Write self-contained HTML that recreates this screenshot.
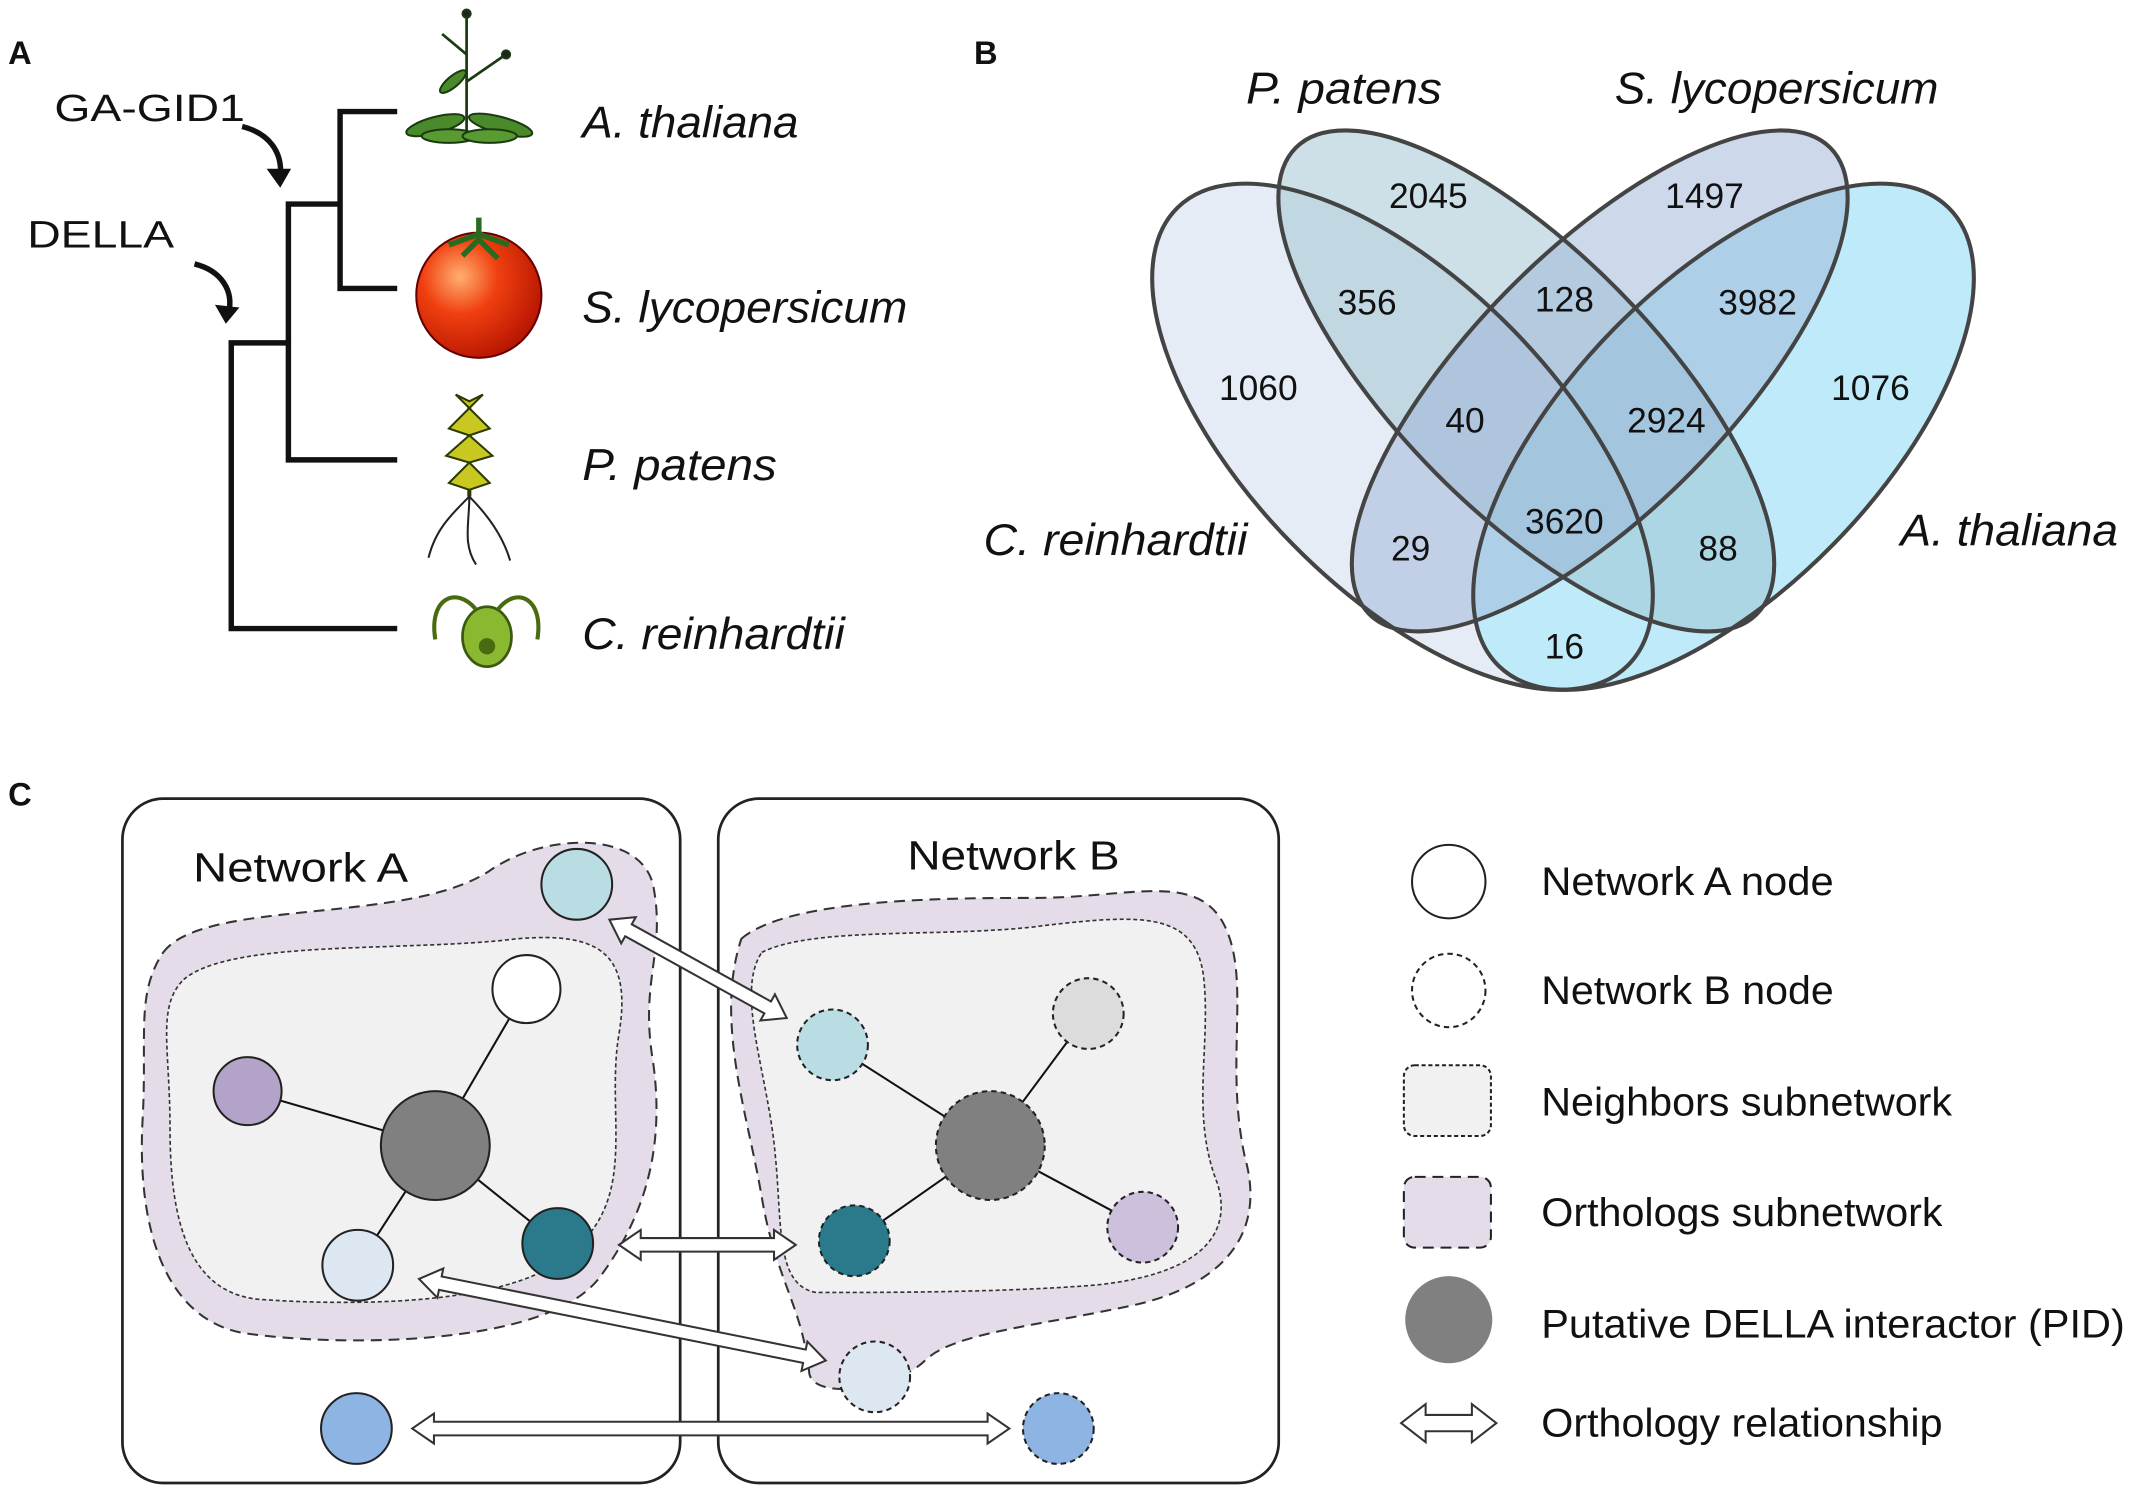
<!DOCTYPE html>
<html><head><meta charset="utf-8"><style>
html,body{margin:0;padding:0;background:#fff;}
svg{display:block;}
text{font-family:"Liberation Sans",Arial,sans-serif;fill:#111;}
.it{font-style:italic;font-size:33px;}
.n{font-size:26px;text-anchor:middle;}
.lg{font-size:29px;}
</style></head><body>
<svg width="2133" height="1502" viewBox="0 0 1568 1104" preserveAspectRatio="none" xmlns="http://www.w3.org/2000/svg">
<text x="6" y="47" font-size="24" font-weight="bold">A</text>
<text x="716" y="47" font-size="24" font-weight="bold">B</text>
<text x="6" y="592" font-size="24" font-weight="bold">C</text>

<g stroke="#111" stroke-width="4" fill="none">
<path d="M292,82 H250 V212 H292"/>
<path d="M250,150 H212 V338 H292"/>
<path d="M212,252 H170 V462 H292"/>
<path d="M178,93 C198,98 208,112 206,130"/>
<path d="M143,194 C163,199 172,214 168,230"/>
</g>
<defs>
<radialGradient id="tom" cx="0.35" cy="0.35" r="0.75">
<stop offset="0" stop-color="#ffb070"/><stop offset="0.4" stop-color="#f04010"/><stop offset="1" stop-color="#b01000"/></radialGradient>
</defs>
<polygon points="196,124 214,124 206,138" fill="#111"/>
<polygon points="158,224 176,226 166,238" fill="#111"/>
<text x="40" y="89" font-size="28" textLength="140" lengthAdjust="spacingAndGlyphs">GA-GID1</text>
<text x="20" y="182" font-size="28" textLength="108" lengthAdjust="spacingAndGlyphs">DELLA</text>
<text class="it" x="428" y="101" textLength="159" lengthAdjust="spacingAndGlyphs">A. thaliana</text>
<text class="it" x="428" y="237" textLength="239" lengthAdjust="spacingAndGlyphs">S. lycopersicum</text>
<text class="it" x="428" y="353" textLength="143" lengthAdjust="spacingAndGlyphs">P. patens</text>
<text class="it" x="428" y="477" textLength="193" lengthAdjust="spacingAndGlyphs">C. reinhardtii</text>

<g stroke="#1a3a10" stroke-width="1.5">
<path d="M343,100 V12 M343,60 L372,40 M343,40 L325,25" fill="none" stroke-width="2"/>
<ellipse cx="320" cy="92" rx="22" ry="6" fill="#4a8a2a" transform="rotate(-15 320 92)"/>
<ellipse cx="368" cy="92" rx="24" ry="6" fill="#4a8a2a" transform="rotate(15 368 92)"/>
<ellipse cx="330" cy="100" rx="20" ry="5" fill="#5a9a32"/>
<ellipse cx="360" cy="100" rx="20" ry="5" fill="#5a9a32"/>
<ellipse cx="333" cy="60" rx="12" ry="4" fill="#4a8a2a" transform="rotate(-40 333 60)"/>
<circle cx="343" cy="10" r="3" fill="#222"/><circle cx="372" cy="40" r="3" fill="#222"/>
</g>
<circle cx="352" cy="217" r="46" fill="url(#tom)" stroke="#600" stroke-width="1.5"/>
<path d="M330,180 L352,172 L374,180 M340,188 L352,176 L366,190 M352,172 V160" stroke="#2a6a20" stroke-width="4" fill="none"/>
<g stroke="#2a3a00" stroke-width="1.5" fill="#c8c820">
<path d="M345,365 V300" fill="none" stroke-width="3"/>
<path d="M345,300 L330,315 L345,320 L360,315 Z M345,320 L328,335 L345,340 L362,335 Z M345,340 L330,355 L345,360 L360,355 Z M345,300 L335,290 L345,295 L355,290 Z"/>
<path d="M345,365 C330,380 320,390 315,410 M345,365 C345,385 340,400 350,415 M345,365 C360,380 370,395 375,412" fill="none" stroke="#222"/>
</g>
<ellipse cx="358" cy="468" rx="18" ry="22" fill="#8ab830" stroke="#3a5a10" stroke-width="2"/>
<circle cx="358" cy="475" r="6" fill="#4a6a10"/>
<path d="M350,448 C335,430 315,440 320,470 M366,448 C380,430 400,440 395,470" stroke="#4a6a10" stroke-width="3" fill="none"/>

<!-- Venn -->
<g stroke="none">
<ellipse cx="1031" cy="321" rx="236" ry="113" transform="rotate(45.5 1031 321)" fill="#e6ecf5"/>
<ellipse cx="1267" cy="321" rx="236" ry="113" transform="rotate(-45.5 1267 321)" fill="#bfeaf9"/>
<ellipse cx="1122" cy="280" rx="241" ry="95" transform="rotate(45.4 1122 280)" fill="#9cc2cf" fill-opacity="0.5"/>
<ellipse cx="1176" cy="280" rx="241" ry="95" transform="rotate(-45.4 1176 280)" fill="#9bb4d8" fill-opacity="0.5"/>
</g>
<g stroke="#444" stroke-width="3" fill="none">
<ellipse cx="1031" cy="321" rx="236" ry="113" transform="rotate(45.5 1031 321)"/>
<ellipse cx="1267" cy="321" rx="236" ry="113" transform="rotate(-45.5 1267 321)"/>
<ellipse cx="1122" cy="280" rx="241" ry="95" transform="rotate(45.4 1122 280)"/>
<ellipse cx="1176" cy="280" rx="241" ry="95" transform="rotate(-45.4 1176 280)"/>
</g>
<text class="n" x="1050" y="153">2045</text><text class="n" x="1253" y="153">1497</text>
<text class="n" x="1005" y="231">356</text><text class="n" x="1150" y="229">128</text><text class="n" x="1292" y="231">3982</text>
<text class="n" x="925" y="294">1060</text><text class="n" x="1077" y="318">40</text><text class="n" x="1225" y="318">2924</text><text class="n" x="1375" y="294">1076</text>
<text class="n" x="1037" y="412">29</text><text class="n" x="1150" y="392">3620</text><text class="n" x="1263" y="412">88</text>
<text class="n" x="1150" y="484">16</text>
<text class="it" x="916" y="76" textLength="144" lengthAdjust="spacingAndGlyphs">P. patens</text>
<text class="it" x="1187" y="76" textLength="238" lengthAdjust="spacingAndGlyphs">S. lycopersicum</text>
<text class="it" x="723" y="408" textLength="194" lengthAdjust="spacingAndGlyphs">C. reinhardtii</text>
<text class="it" x="1397" y="401" textLength="160" lengthAdjust="spacingAndGlyphs">A. thaliana</text>

<rect x="90" y="587" width="410" height="503" rx="30" fill="#fff" stroke="#222" stroke-width="2"/>
<rect x="528" y="587" width="412" height="503" rx="30" fill="#fff" stroke="#222" stroke-width="2"/>
<text x="142" y="648" font-size="30" textLength="158" lengthAdjust="spacingAndGlyphs">Network A</text>
<text x="667" y="639" font-size="30" textLength="156" lengthAdjust="spacingAndGlyphs">Network B</text>

<path d="M120,700 C150,660 300,680 360,640 C400,612 470,610 480,650 C490,700 470,720 480,780 C490,850 470,900 440,940 C400,990 250,990 180,980 C120,970 100,900 105,820 C108,760 100,730 120,700 Z" fill="#e4dde9" stroke="#333" stroke-width="1.5" stroke-dasharray="8,5"/>
<path d="M135,720 C170,690 300,700 380,690 C440,685 465,700 455,760 C445,820 470,880 420,920 C380,960 260,960 190,955 C140,950 125,900 125,830 C125,770 115,740 135,720 Z" fill="#f1f1f1" stroke="#333" stroke-width="1.2" stroke-dasharray="3,2"/>
<path d="M545,690 C580,660 700,660 760,660 C830,660 880,640 900,680 C920,720 900,780 915,850 C935,920 880,950 830,960 C760,975 700,980 680,1000 C660,1020 600,1030 595,1010 C590,960 570,940 560,880 C550,820 525,750 545,690 Z" fill="#e4dde9" stroke="#333" stroke-width="1.5" stroke-dasharray="8,5"/>
<path d="M560,700 C600,680 700,690 770,680 C840,672 880,670 885,720 C890,770 875,820 895,870 C910,920 860,940 800,945 C730,950 650,950 600,950 C570,945 575,900 570,850 C565,790 540,730 560,700 Z" fill="#f1f1f1" stroke="#333" stroke-width="1.2" stroke-dasharray="3,2"/>

<g stroke="#111" stroke-width="1.5">
<line x1="320" y1="842" x2="387" y2="727"/><line x1="320" y1="842" x2="182" y2="802"/>
<line x1="320" y1="842" x2="410" y2="914"/><line x1="320" y1="842" x2="263" y2="930"/>
<line x1="728" y1="842" x2="612" y2="768"/><line x1="728" y1="842" x2="800" y2="745"/>
<line x1="728" y1="842" x2="628" y2="912"/><line x1="728" y1="842" x2="840" y2="902"/>
</g>
<g stroke="#222" stroke-width="1.5">
<circle cx="424" cy="650" r="26" fill="#b9dde3"/>
<circle cx="387" cy="727" r="25" fill="#fff"/>
<circle cx="182" cy="802" r="25" fill="#b4a3c8"/>
<circle cx="320" cy="842" r="40" fill="#808080"/>
<circle cx="410" cy="914" r="26" fill="#2a7a8c"/>
<circle cx="263" cy="930" r="26" fill="#dde7f2"/>
<circle cx="262" cy="1050" r="26" fill="#8eb4e3"/>
</g>
<g stroke="#222" stroke-width="1.5" stroke-dasharray="4,3">
<circle cx="612" cy="768" r="26" fill="#b9dde3"/>
<circle cx="800" cy="745" r="26" fill="#dcdcdc"/>
<circle cx="728" cy="842" r="40" fill="#808080"/>
<circle cx="628" cy="912" r="26" fill="#2a7a8c"/>
<circle cx="840" cy="902" r="26" fill="#cdc0dd"/>
<circle cx="643" cy="1012" r="26" fill="#dde7f2"/>
<circle cx="778" cy="1050" r="26" fill="#8eb4e3"/>
</g>

<g fill="#fff" stroke="#333" stroke-width="1.5">
<polygon transform="translate(448,676) rotate(29)" points="0,0 16,-11 16,-5 133,-5 133,-11 149,0 133,11 133,5 16,5 16,11"/>
<polygon transform="translate(455,915)" points="0,0 16,-11 16,-5 114,-5 114,-11 130,0 114,11 114,5 16,5 16,11"/>
<polygon transform="translate(308,940) rotate(11.35)" points="0,0 16,-11 16,-5 289,-5 289,-11 305,0 289,11 289,5 16,5 16,11"/>
<polygon transform="translate(303,1050)" points="0,0 16,-11 16,-5 423,-5 423,-11 439,0 423,11 423,5 16,5 16,11"/>
<polygon transform="translate(1030,1046)" points="0,0 18,-14 18,-6 52,-6 52,-14 70,0 52,14 52,6 18,6 18,14"/>
</g>

<circle cx="1065" cy="648" r="27" fill="#fff" stroke="#222" stroke-width="1.5"/>
<circle cx="1065" cy="728" r="27" fill="#fff" stroke="#222" stroke-width="1.5" stroke-dasharray="4,3"/>
<rect x="1032" y="783" width="64" height="52" rx="8" fill="#f1f1f1" stroke="#222" stroke-width="1.5" stroke-dasharray="3,2"/>
<rect x="1032" y="865" width="64" height="52" rx="8" fill="#e4dde9" stroke="#222" stroke-width="1.5" stroke-dasharray="8,5"/>
<circle cx="1065" cy="970" r="32" fill="#808080"/>
<text class="lg" x="1133" y="658" textLength="215" lengthAdjust="spacingAndGlyphs">Network A node</text>
<text class="lg" x="1133" y="738" textLength="215" lengthAdjust="spacingAndGlyphs">Network B node</text>
<text class="lg" x="1133" y="820" textLength="302" lengthAdjust="spacingAndGlyphs">Neighbors subnetwork</text>
<text class="lg" x="1133" y="901" textLength="295" lengthAdjust="spacingAndGlyphs">Orthologs subnetwork</text>
<text class="lg" x="1133" y="983" textLength="429" lengthAdjust="spacingAndGlyphs">Putative DELLA interactor (PID)</text>
<text class="lg" x="1133" y="1056" textLength="295" lengthAdjust="spacingAndGlyphs">Orthology relationship</text>
</svg>
</body></html>
